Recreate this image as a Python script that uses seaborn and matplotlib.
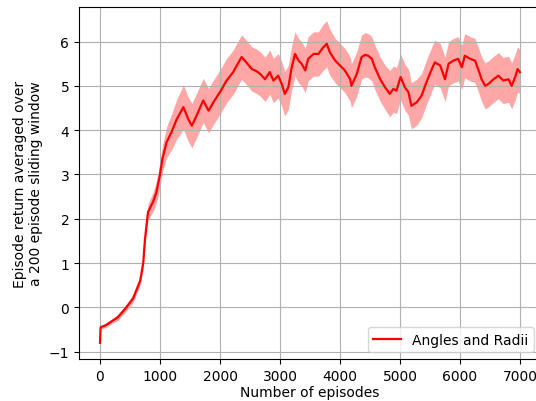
import numpy as np
import pandas as pd
import matplotlib
matplotlib.use("Agg")
import matplotlib.pyplot as plt
import seaborn as sns

# values
episodes = [0, 10, 100, 200, 300, 440, 550, 670, 720, 750,
            800, 890, 940, 1000, 1040, 1110, 1190, 1280, 1390, 1470,
            1530, 1610, 1720, 1810, 1890, 2000, 2110, 2220, 2280, 2360,
            2440, 2530, 2610, 2670, 2750, 2830, 2890, 2970, 3030, 3080,
            3140, 3190, 3250, 3310, 3360, 3420, 3470, 3560, 3640, 3720,
            3780, 3830, 3920, 4000, 4080, 4170, 4190, 4280, 4360, 4420,
            4470, 4530, 4580, 4670, 4750, 4830, 4890, 4940, 5010, 5080,
            5140, 5190, 5280, 5360, 5440, 5530, 5580, 5670, 5750, 5810,
            5890, 5970, 6030, 6080, 6170, 6250, 6310, 6360, 6420, 6470,
            6560, 6640, 6720, 6810, 6860, 6920, 6960, 6999]
mean_return = [-0.80, -0.45, -0.40, -0.31, -0.22, 0.00, 0.20, 0.60, 1.00, 1.54,
               2.15, 2.40, 2.60, 3.00, 3.35, 3.73, 3.95, 4.25, 4.52, 4.25,
               4.10, 4.33, 4.67, 4.44, 4.63, 4.86, 5.12, 5.31, 5.46, 5.65,
               5.53, 5.38, 5.33, 5.27, 5.15, 5.31, 5.12, 5.23, 5.04, 4.82,
               4.97, 5.38, 5.72, 5.57, 5.50, 5.35, 5.61, 5.72, 5.72, 5.87,
               5.95, 5.76, 5.57, 5.46, 5.35, 5.15, 5.00, 5.27, 5.65, 5.70,
               5.68, 5.61, 5.42, 5.15, 4.97, 4.82, 4.93, 4.89, 5.20, 4.97,
               4.86, 4.55, 4.63, 4.78, 5.08, 5.38, 5.53, 5.46, 5.15, 5.50,
               5.57, 5.61, 5.42, 5.68, 5.61, 5.57, 5.35, 5.15, 5.00, 5.04,
               5.15, 5.23, 5.12, 5.15, 5.00, 5.20, 5.38, 5.31]
half_band = [0.03, 0.04, 0.05, 0.05, 0.07, 0.08, 0.09, 0.10, 0.12, 0.14,
             0.18, 0.22, 0.25, 0.28, 0.30, 0.35, 0.40, 0.45, 0.50, 0.50,
             0.50, 0.50, 0.50, 0.50, 0.50, 0.50, 0.50, 0.50, 0.50, 0.50,
             0.50, 0.50, 0.50, 0.50, 0.50, 0.50, 0.50, 0.50, 0.50, 0.50,
             0.50, 0.50, 0.50, 0.50, 0.50, 0.50, 0.50, 0.50, 0.50, 0.52,
             0.52, 0.52, 0.50, 0.50, 0.50, 0.50, 0.50, 0.50, 0.50, 0.50,
             0.50, 0.50, 0.50, 0.50, 0.50, 0.52, 0.52, 0.52, 0.52, 0.52,
             0.52, 0.52, 0.52, 0.50, 0.50, 0.50, 0.50, 0.50, 0.50, 0.50,
             0.50, 0.50, 0.50, 0.50, 0.50, 0.50, 0.50, 0.50, 0.52, 0.52,
             0.52, 0.52, 0.52, 0.52, 0.52, 0.52, 0.50, 0.50]

df = pd.DataFrame({"episode": episodes, "ret": mean_return})
lo = np.array(mean_return) - np.array(half_band)
hi = np.array(mean_return) + np.array(half_band)

fig = plt.figure(figsize=(5.36, 4.02), dpi=100)
ax = fig.add_axes([79 / 536, 1 - 360 / 402, 462 / 536, 352 / 402])

ax.fill_between(episodes, lo, hi, color="red", alpha=0.35, linewidth=0)
sns.lineplot(data=df, x="episode", y="ret", color="red", linewidth=1.6,
             label="Angles and Radii", ax=ax)

ax.set_xlim(-350, 7350)
ax.set_ylim(-1.165, 6.78)
ax.set_xticks(range(0, 7001, 1000))
ax.set_yticks(range(-1, 7))
ax.grid(True, color="#b0b0b0", linewidth=0.8)
ax.set_xlabel("Number of episodes", labelpad=2)
ax.set_ylabel("Episode return averaged over\na 200 episode sliding window")
ax.legend(loc="lower right")

fig.savefig("out.png", dpi=100)
